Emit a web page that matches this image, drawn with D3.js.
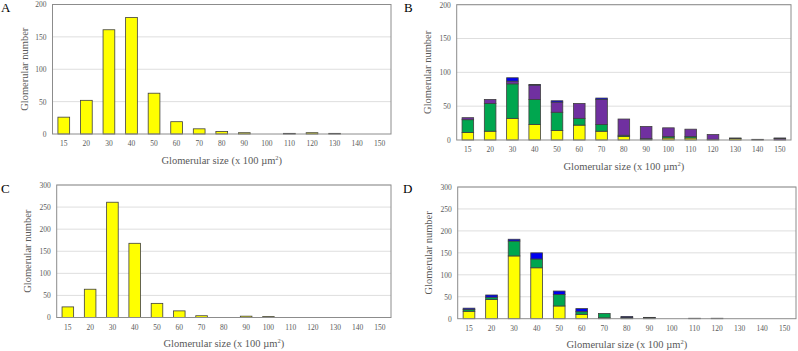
<!DOCTYPE html>
<html lang="en">
<head>
<meta charset="UTF-8">
<title>Glomerular size</title>
<style>
  body { margin: 0; background: #fff; }
  svg { display: block; }
  text { font-family: "Liberation Serif", "Times New Roman", serif; }
</style>
</head>
<body>
<script src="https://cdn.jsdelivr.net/npm/d3@7/dist/d3.min.js"></script>
<script>
var categories = ['15','20','30','40','50','60','70','80','90','100','110','120','130','140','150'];

// panel A
var aYellow = [26, 52, 161, 180, 63, 19, 8, 4, 2, 0, 1, 2, 1, 0, 0];

// panel B
var bYellow = [11, 13, 32, 23, 14, 22, 13, 5, 1, 3, 3, 0, 2, 0, 0];
var bGreen  = [19, 41, 51, 37, 27, 10, 10, 2, 1, 2, 2, 1, 1, 0, 0];
var bPurple = [3, 6, 4, 21, 15, 22, 37, 24, 18, 13, 11, 7, 0, 1, 2];
var bBlue   = [0, 0, 5, 1, 2, 0, 2, 0, 0, 0, 0, 0, 0, 0, 1];

// panel C
var cYellow = [24, 64, 261, 168, 32, 15, 4, 0, 3, 2, 0, 0, 0, 0, 0];

// panel D
var dYellow = [17, 44, 143, 116, 29, 10, 2, 1, 0, 0, 0, 0, 0, 0, 0];
var dGreen  = [4, 5, 34, 20, 26, 6, 10, 2, 2, 0, 0, 0, 0, 0, 0];
var dBlue   = [3, 5, 4, 14, 8, 7, 0, 2, 1, 0, 1, 1, 0, 0, 0];

var yTicksA = [0, 50, 100, 150, 200];
var yTicksC = [0, 50, 100, 150, 200, 250, 300];

var colors = {yellow: '#ffff00', green: '#00a64f', purple: '#7030a0', blue: '#0000f0'};

var svg = d3.select('body').append('svg')
  .attr('width', 798)
  .attr('height', 351);

function drawPanel(p) {
  var g = svg.append('g');
  var w = p.right - p.left, h = p.bottom - p.top;

  var x = d3.scaleBand().domain(categories).range([p.left, p.right]).paddingInner(0.48).paddingOuter(0.24);
  var y = d3.scaleLinear().domain([0, d3.max(p.ticks)]).range([p.bottom, p.top]);

  // grid lines
  g.append('g').selectAll('line').data(p.ticks.slice(1))
    .enter().append('line')
    .attr('x1', p.left).attr('x2', p.right)
    .attr('y1', function (d) { return y(d); })
    .attr('y2', function (d) { return y(d); })
    .attr('stroke', '#dedede').attr('stroke-width', 1);

  // y axis labels
  var yAxis = g.append('g')
    .attr('transform', 'translate(' + (p.left - 6) + ',0)')
    .call(d3.axisLeft(y).tickValues(p.ticks).tickSize(0).tickPadding(0));
  yAxis.select('.domain').remove();
  yAxis.selectAll('text').attr('font-size', '7.5px').attr('fill', '#595959')
    .attr('font-family', '"Liberation Serif", serif');

  // x axis labels
  var xAxis = g.append('g')
    .attr('transform', 'translate(0,' + (p.bottom + 7) + ')')
    .call(d3.axisBottom(x).tickSize(0).tickPadding(0));
  xAxis.select('.domain').remove();
  xAxis.selectAll('text').attr('font-size', '7.5px').attr('fill', '#595959')
    .attr('font-family', '"Liberation Serif", serif');

  // stacked bars
  var rows = categories.map(function (c, i) {
    var r = {cat: c};
    p.series.forEach(function (s) { r[s.key] = s.values[i]; });
    return r;
  });
  var keys = p.series.map(function (s) { return s.key; });
  var stacked = d3.stack().keys(keys)(rows);

  g.append('g').selectAll('g').data(stacked)
    .enter().append('g')
    .attr('fill', function (d) { return colors[d.key]; })
    .selectAll('rect')
    .data(function (d) { return d.filter(function (v) { return v[1] - v[0] > 0; }); })
    .enter().append('rect')
    .attr('x', function (d) { return x(d.data.cat); })
    .attr('y', function (d) { return y(d[1]); })
    .attr('width', x.bandwidth())
    .attr('height', function (d) { return y(d[0]) - y(d[1]); })
    .attr('stroke', '#3f3f3f')
    .attr('stroke-width', 0.8);

  // plot frame
  g.append('rect')
    .attr('x', p.left).attr('y', p.top)
    .attr('width', w).attr('height', h)
    .attr('fill', 'none').attr('stroke', '#8c8c8c').attr('stroke-width', 1);

  // titles
  g.append('text')
    .attr('x', (p.left + p.right) / 2)
    .attr('y', p.xTitleY)
    .attr('text-anchor', 'middle')
    .attr('font-size', '10.5px')
    .attr('fill', '#595959')
    .html('Glomerular size (x 100 \u00b5m<tspan dy="-4" font-size="6.5px">2</tspan><tspan dy="4">)</tspan>');

  g.append('text')
    .attr('transform', 'translate(' + p.yTitleX + ',' + ((p.top + p.bottom) / 2) + ') rotate(-90)')
    .attr('text-anchor', 'middle')
    .attr('dy', '0.35em')
    .attr('font-size', '10.5px')
    .attr('fill', '#595959')
    .text('Glomerular number');

  g.append('text')
    .attr('x', p.labelX).attr('y', p.labelY)
    .attr('font-size', '13px')
    .attr('fill', '#000')
    .text(p.label);
}

drawPanel({
  label: 'A', labelX: 1, labelY: 12,
  left: 52.5, right: 391, top: 4.5, bottom: 134,
  ticks: yTicksA, xTitleY: 164, yTitleX: 24.5,
  series: [{key: 'yellow', values: aYellow}]
});

drawPanel({
  label: 'B', labelX: 404, labelY: 12,
  left: 456.7, right: 791, top: 4.7, bottom: 140,
  ticks: yTicksA, xTitleY: 169.5, yTitleX: 427,
  series: [
    {key: 'yellow', values: bYellow},
    {key: 'green', values: bGreen},
    {key: 'purple', values: bPurple},
    {key: 'blue', values: bBlue}
  ]
});

drawPanel({
  label: 'C', labelX: 1, labelY: 193,
  left: 56.7, right: 391, top: 185, bottom: 317.5,
  ticks: yTicksC, xTitleY: 347, yTitleX: 27,
  series: [{key: 'yellow', values: cYellow}]
});

drawPanel({
  label: 'D', labelX: 403, labelY: 193,
  left: 457.7, right: 796, top: 187, bottom: 318.7,
  ticks: yTicksC, xTitleY: 348, yTitleX: 428,
  series: [
    {key: 'yellow', values: dYellow},
    {key: 'green', values: dGreen},
    {key: 'blue', values: dBlue}
  ]
});
</script>
</body>
</html>
